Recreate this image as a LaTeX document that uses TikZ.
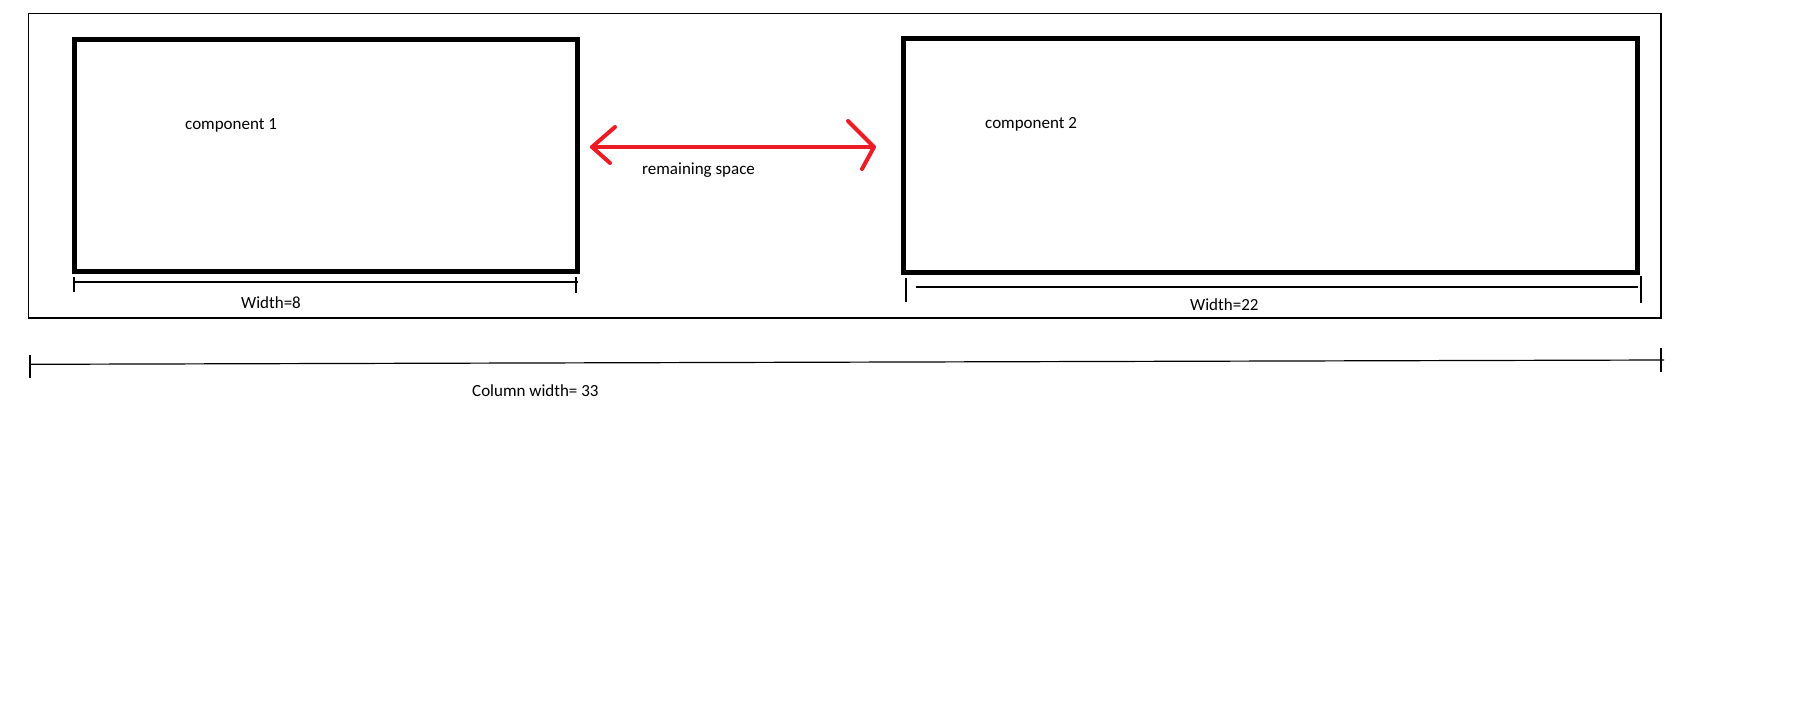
\documentclass[tikz,border=0pt]{standalone}
\usepackage{fontspec}
\setmainfont{Carlito}
\usetikzlibrary{calc}
\definecolor{paintred}{RGB}{237,28,36}

\begin{document}
\begin{tikzpicture}[x=1pt, y=-1pt, font=\fontsize{17}{20}\selectfont]
  % Styles for the boxes, the measure lines and the red arrow
  \tikzset{
    comp-box/.style={draw, line width=5pt, inner sep=0pt},
    thin-line/.style={line width=1.2pt},
    gap-arrow/.style={draw=paintred, line width=4pt, line cap=round, line join=round},
    label-text/.style={anchor=base west, inner sep=0pt}
  }

  \useasboundingbox (0,0) rectangle (1814,710);

  % Outer frame of the column
  \draw[thin-line] (28.5,13.5) rectangle (1661,318);

  % The two components
  \node[comp-box, minimum width=503pt, minimum height=231.5pt] (comp1) at (326,155.25) {};
  \node[comp-box, minimum width=733.5pt, minimum height=233.5pt] (comp2) at (1270.25,155.25) {};

  \node[label-text] (comp1-label) at (185,129) {component 1};
  \node[label-text] (comp2-label) at (985,128) {component 2};

  % Remaining space between them
  \coordinate (gap-left)  at (592,147);
  \coordinate (gap-right) at (874,147);
  \draw[gap-arrow] (gap-left) -- (gap-right);
  \draw[gap-arrow] ($(gap-left)+(23,-20)$) -- (gap-left) -- ($(gap-left)+(18,16)$);
  \draw[gap-arrow] ($(gap-right)+(-26,-26)$) -- (gap-right) -- ($(gap-right)+(-12,22)$);
  \node[label-text] (gap-label) at (642,174) {remaining space};

  % Measure lines
  \coordinate (dim1-a) at (74,282);
  \coordinate (dim1-b) at (578,282);
  \coordinate (dim2-a) at (916,287);
  \coordinate (dim2-b) at (1638,287);
  \coordinate (col-a)  at (30,364.3);
  \coordinate (col-b)  at (1664,360);
  \draw[thin-line] (dim1-a) -- (dim1-b);
  \draw[thin-line] (dim2-a) -- (dim2-b);
  \draw[thin-line] (col-a) -- (col-b);

  \foreach \tx/\ta/\tb in {
    74/277/292,
    576/277/293,
    906/278/302,
    1641/276/303,
    30/355/378,
    1661/348/372
  }{
    \draw[thin-line] (\tx,\ta) -- (\tx,\tb);
  }

  \node[label-text] (dim1-label) at (241,308) {Width=8};
  \node[label-text] (dim2-label) at (1190,310) {Width=22};
  \node[label-text] (col-label)  at (472,396) {Column width= 33};
\end{tikzpicture}
\end{document}
